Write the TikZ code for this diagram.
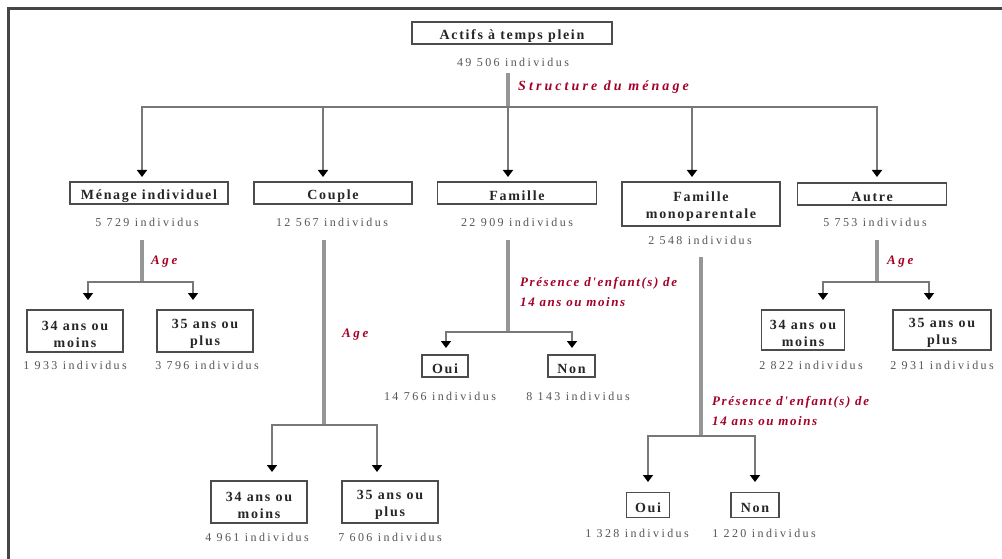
\documentclass[tikz,border=0pt]{standalone}
\usepackage{fontspec}
\setmainfont{Liberation Serif}[LetterSpace=12]
\newfontfamily\countfont{Liberation Serif}[LetterSpace=20]
\newfontfamily\structfont{Liberation Serif}[LetterSpace=22]
\newfontfamily\presfont{Liberation Serif}[LetterSpace=12]
\newfontfamily\agefont{Liberation Serif}[LetterSpace=20]
\usetikzlibrary{arrows.meta}
\definecolor{labred}{RGB}{165,0,40}
\definecolor{linegray}{RGB}{120,120,120}
\definecolor{trunkgray}{RGB}{150,150,150}
\definecolor{txtgray}{RGB}{85,85,85}
\definecolor{framegray}{RGB}{70,70,70}
\begin{document}
\begin{tikzpicture}[x=1pt,y=-1pt,
 boxnode/.style={draw=black!70, line width=1.3pt, inner sep=0pt},
 btxt/.style={align=center, inner sep=0pt, yshift=-3pt, font=\fontsize{14}{17}\selectfont\bfseries, text=black!85},
 countnode/.style={font=\countfont\fontsize{12}{14}\selectfont, text=txtgray, inner sep=0pt},
 trunk/.style={draw=trunkgray, line width=4pt},
 branch/.style={draw=linegray, line width=1.8pt, -{Triangle[width=10pt,length=7pt,color=black]}},
 critlabel/.style={text=labred, inner sep=0pt, anchor=west, align=left},
 structlab/.style={critlabel, font=\structfont\fontsize{14}{20}\selectfont\bfseries\itshape},
 preslab/.style={critlabel, font=\presfont\fontsize{13}{20}\selectfont\bfseries\itshape},
 agelab/.style={critlabel, font=\agefont\fontsize{13}{20}\selectfont\bfseries\itshape},
]
\useasboundingbox (0,0) rectangle (1002,559);
\fill[white] (0,0) rectangle (1002,559);
% frame
\draw[framegray, line width=2.5pt] (8.5,559) -- (8.5,8.5) -- (1002,8.5);

% root
\node[boxnode, minimum width=200pt, minimum height=22pt, label={[btxt]center:Actifs à temps plein}] (root) at (512,33) {};
\node[countnode] (rootc) at (513,62) {49 506 individus};
\coordinate (roott) at (508,73);
\coordinate (rootb) at (508,107);
\draw[trunk] (roott) -- (rootb);
\node[structlab] (rootl) at (518,87) {Structure du ménage};

% level 2
\node[boxnode, minimum width=158pt, minimum height=22pt, label={[btxt]center:Ménage individuel}] (men) at (149,193) {};
\node[boxnode, minimum width=158pt, minimum height=22pt, label={[btxt]center:Couple}] (cou) at (333,193) {};
\node[boxnode, minimum width=159pt, minimum height=22pt, label={[btxt]center:Famille}] (fam) at (517,193) {};
\node[boxnode, minimum width=158pt, minimum height=44pt, label={[btxt]center:Famille\\monoparentale}] (mono) at (701,204) {};
\node[boxnode, minimum width=149pt, minimum height=22pt, label={[btxt]center:Autre}] (aut) at (872,194) {};

\coordinate (a1) at (142,177);
\coordinate (a2) at (323,177);
\coordinate (a3) at (508,177);
\coordinate (a4) at (692,177);
\coordinate (a5) at (877,177);
\foreach \t in {a1,a2,a3,a4,a5} \draw[branch] (rootb) -| (\t);

\node[countnode] (menc) at (147,222) {5 729 individus};
\node[countnode] (couc) at (332,222) {12 567 individus};
\node[countnode] (famc) at (517,222) {22 909 individus};
\node[countnode] (monoc) at (700,240) {2 548 individus};
\node[countnode] (autc) at (875,222) {5 753 individus};

% menage branch
\coordinate (ment) at (142,240);
\coordinate (menb) at (142,282);
\draw[trunk] (ment) -- (menb);
\node[agelab] (menl) at (151,262) {Age};
\coordinate (m1) at (88,300);
\coordinate (m2) at (193,300);
\draw[branch] (menb) -| (m1);
\draw[branch] (menb) -| (m2);
\node[boxnode, minimum width=96pt, minimum height=42pt, label={[btxt]center:34 ans ou\\moins}] (m34) at (75,331) {};
\node[boxnode, minimum width=96pt, minimum height=42pt, label={[btxt]center:35 ans ou\\plus}] (m35) at (205,331) {};
\node[countnode] (m34c) at (75,365) {1 933 individus};
\node[countnode] (m35c) at (207,365) {3 796 individus};

% couple branch
\coordinate (cout) at (324,240);
\coordinate (coub) at (324,425);
\draw[trunk] (cout) -- (coub);
\node[agelab] (coul) at (342,335) {Age};
\coordinate (c1) at (272,472);
\coordinate (c2) at (377,472);
\draw[branch] (coub) -| (c1);
\draw[branch] (coub) -| (c2);
\node[boxnode, minimum width=96pt, minimum height=42pt, label={[btxt]center:34 ans ou\\moins}] (c34) at (259,502) {};
\node[boxnode, minimum width=96pt, minimum height=42pt, label={[btxt]center:35 ans ou\\plus}] (c35) at (390,502) {};
\node[countnode] (c34c) at (257,537) {4 961 individus};
\node[countnode] (c35c) at (390,537) {7 606 individus};

% famille branch
\coordinate (famt) at (508,240);
\coordinate (famb) at (508,332);
\draw[trunk] (famt) -- (famb);
\node[preslab] (faml) at (520,292) {Présence d'enfant(s) de\\14 ans ou moins};
\coordinate (f1) at (446,348);
\coordinate (f2) at (572,348);
\draw[branch] (famb) -| (f1);
\draw[branch] (famb) -| (f2);
\node[boxnode, minimum width=46pt, minimum height=22pt, label={[btxt]center:Oui}] (foui) at (445,366) {};
\node[boxnode, minimum width=47pt, minimum height=22pt, label={[btxt]center:Non}] (fnon) at (571.5,366) {};
\node[countnode] (fouic) at (440,396) {14 766 individus};
\node[countnode] (fnonc) at (578,396) {8 143 individus};

% monoparentale branch
\coordinate (monot) at (701,257);
\coordinate (monob) at (701,436);
\draw[trunk] (monot) -- (monob);
\node[preslab] (monol) at (712,411) {Présence d'enfant(s) de\\14 ans ou moins};
\coordinate (p1) at (648,482);
\coordinate (p2) at (755,482);
\draw[branch] (monob) -| (p1);
\draw[branch] (monob) -| (p2);
\node[boxnode, minimum width=43pt, minimum height=25pt, label={[btxt]center:Oui}] (moui) at (648,505) {};
\node[boxnode, minimum width=48pt, minimum height=25pt, label={[btxt]center:Non}] (mnon) at (755,505) {};
\node[countnode] (mouic) at (637,533) {1 328 individus};
\node[countnode] (mnonc) at (764,533) {1 220 individus};

% autre branch
\coordinate (autt) at (877,240);
\coordinate (autb) at (877,282);
\draw[trunk] (autt) -- (autb);
\node[agelab] (autl) at (887,262) {Age};
\coordinate (u1) at (823,300);
\coordinate (u2) at (929,300);
\draw[branch] (autb) -| (u1);
\draw[branch] (autb) -| (u2);
\node[boxnode, minimum width=83pt, minimum height=40pt, label={[btxt]center:34 ans ou\\moins}] (a34) at (803,330) {};
\node[boxnode, minimum width=98pt, minimum height=40pt, label={[btxt]center:35 ans ou\\plus}] (a35) at (942,330) {};
\node[countnode] (a34c) at (811,365) {2 822 individus};
\node[countnode] (a35c) at (942,365) {2 931 individus};
\end{tikzpicture}
\end{document}
